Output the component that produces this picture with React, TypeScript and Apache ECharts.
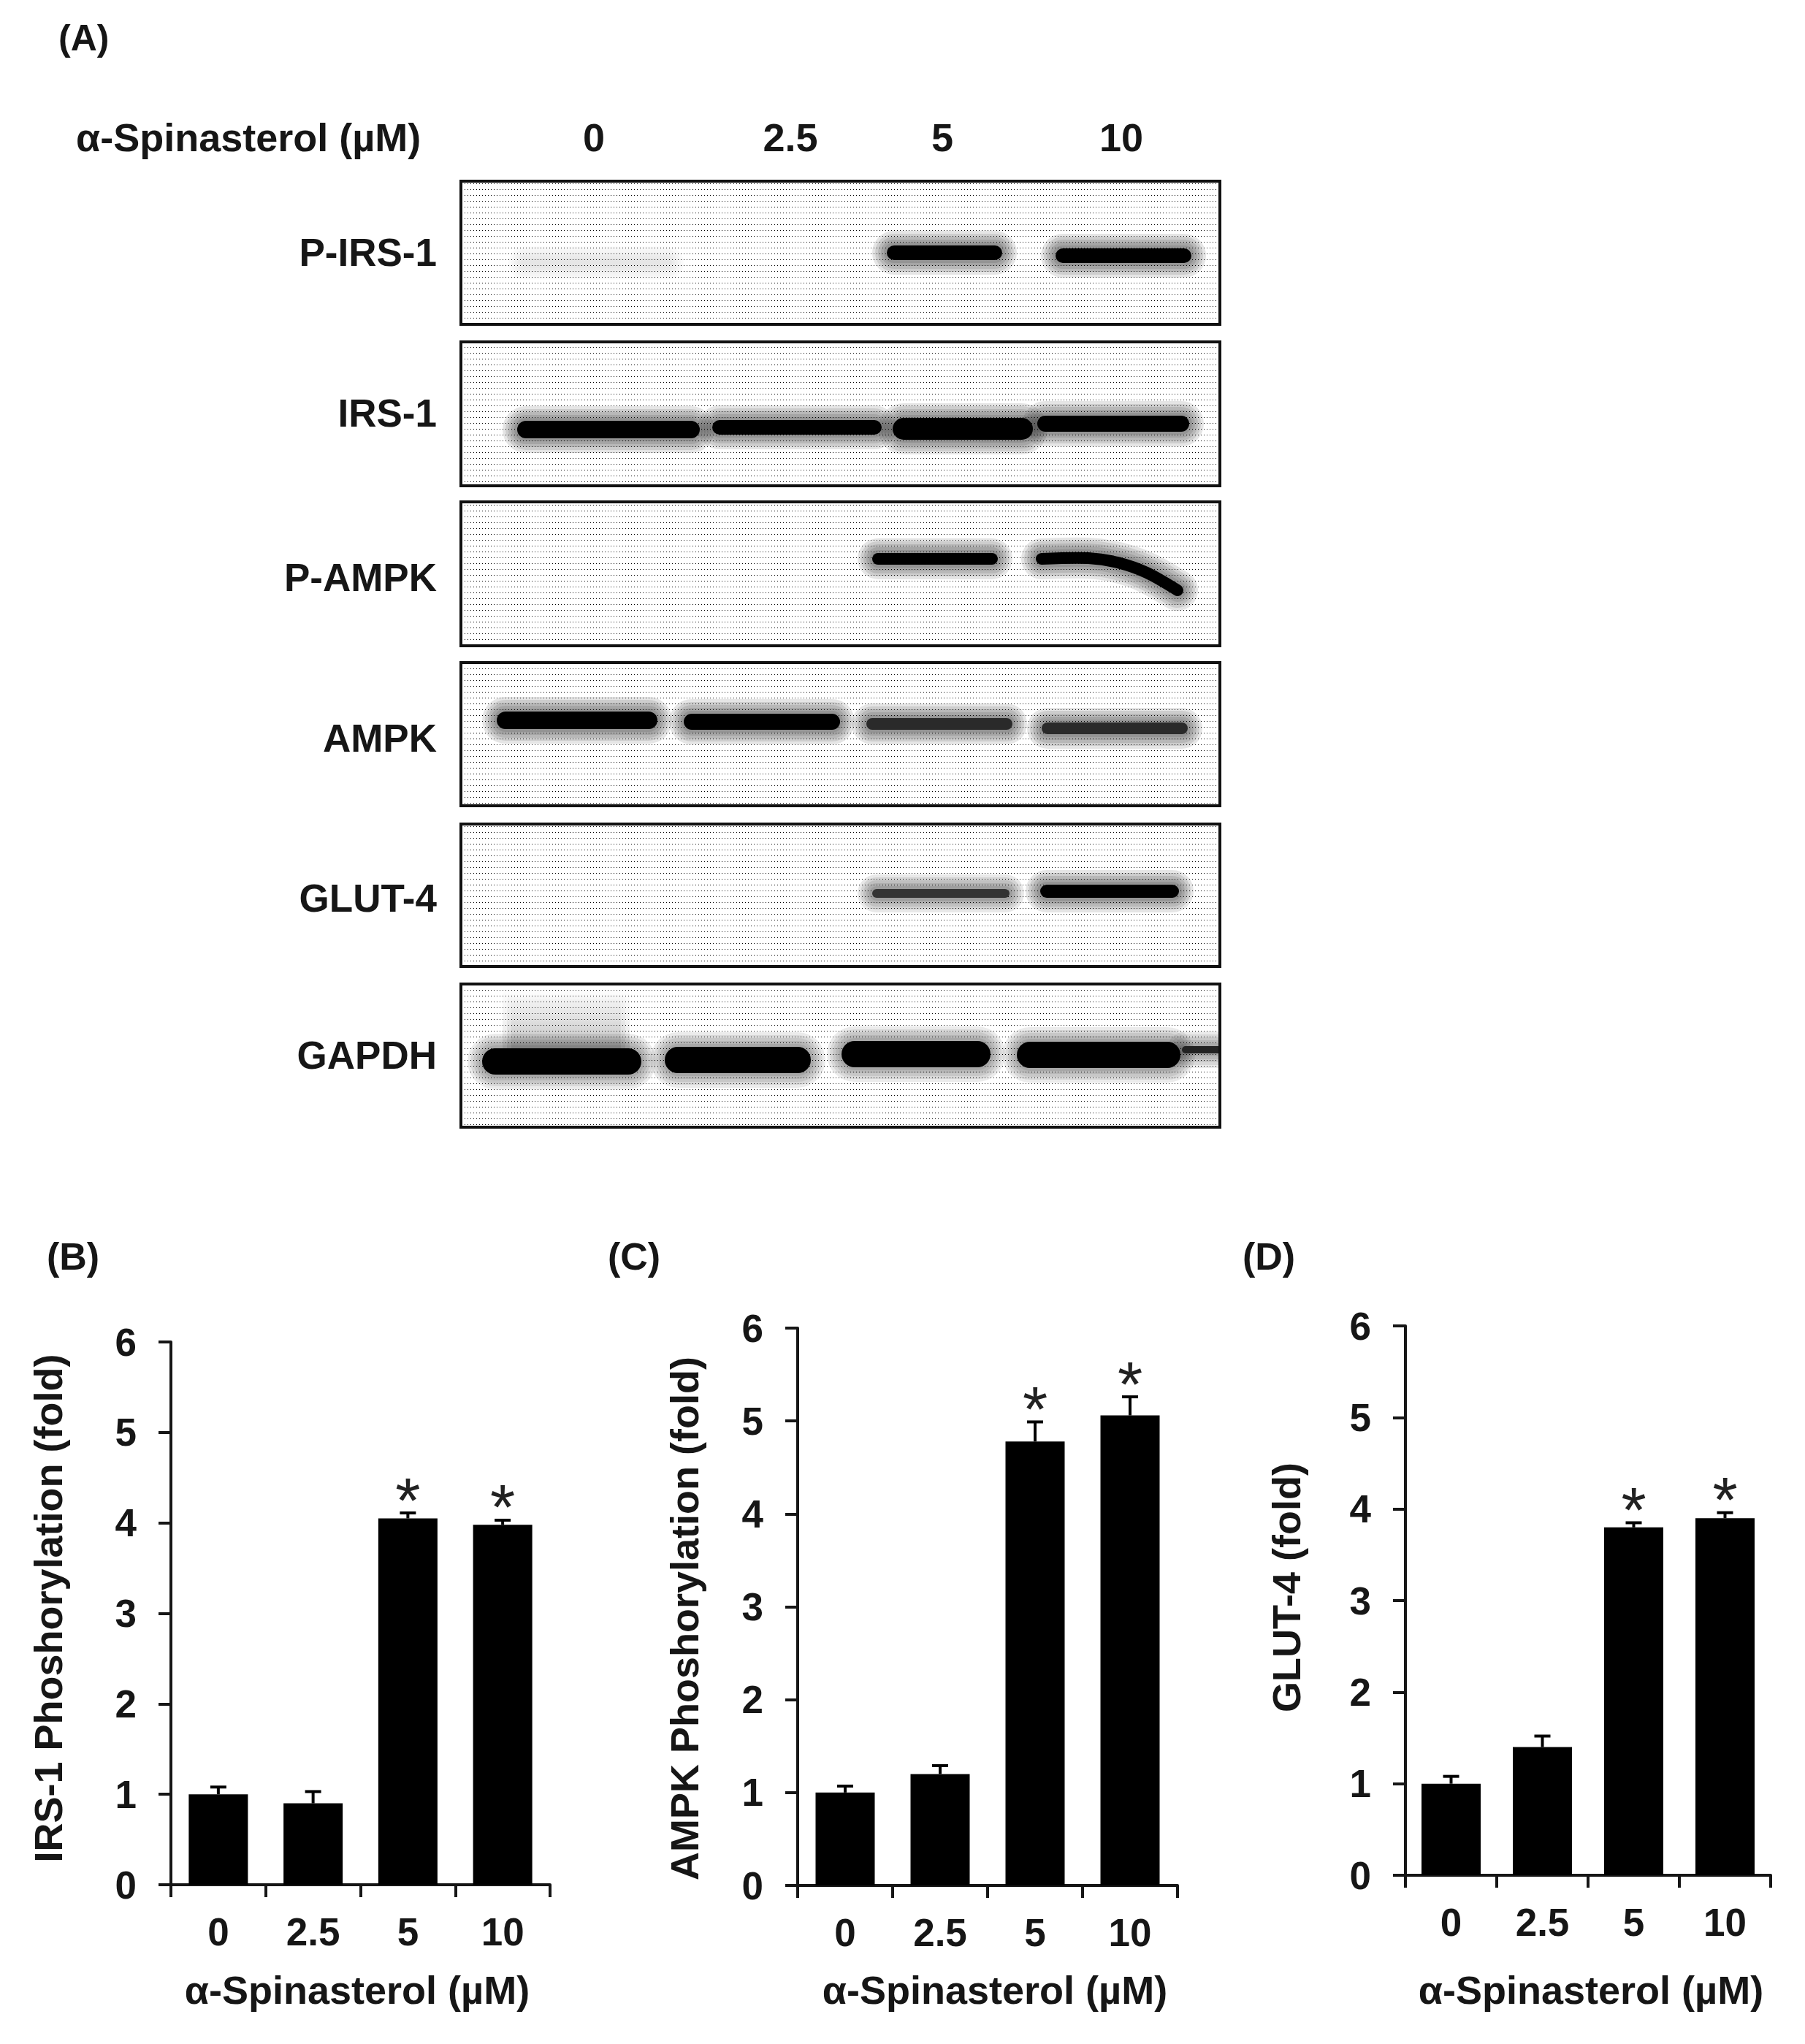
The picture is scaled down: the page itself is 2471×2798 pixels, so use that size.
import React, { useEffect, useRef } from "react";
import * as echarts from "echarts";

const doses = ["0", "2.5", "5", "10"];
const irsValues = [1.0, 0.9, 4.05, 3.98];
const irsErrors = [0.08, 0.13, 0.06, 0.05];
const ampkValues = [1.0, 1.2, 4.78, 5.06];
const ampkErrors = [0.07, 0.09, 0.21, 0.2];
const glutValues = [1.0, 1.4, 3.8, 3.9];
const glutErrors = [0.08, 0.12, 0.05, 0.06];
const significance = ["", "", "*", "*"];
const xTitle = "α-Spinasterol (µM)";

const FONT = "Liberation Sans";
const INK = "#161616";
const TITLE_SIZE = 54;

const panels = [
  { name: "IRS-1 Phoshorylation (fold)", values: irsValues, errors: irsErrors, left: 234, right: 753, top: 1837, bottom: 2580, yGap: 141, yPad: [0, 0, 0, 14], xGap: 117, xPad: [0, 9, 0, 0] },
  { name: "AMPK Phoshorylation (fold)", values: ampkValues, errors: ampkErrors, left: 1092, right: 1612, top: 1818, bottom: 2581, yGap: 128, yPad: [0, 32, 0, 0], xGap: 116, xPad: [0, 0, 0, 20] },
  { name: "GLUT-4 (fold)", values: glutValues, errors: glutErrors, left: 1924, right: 2424, top: 1815, bottom: 2567, yGap: 136, yPad: [0, 0, 0, 36], xGap: 130, xPad: [0, 0, 0, 8] },
];

const blotFrames = [
  { label: "P-IRS-1", y0: 248, y1: 444, ly: 345 },
  { label: "IRS-1", y0: 468, y1: 665, ly: 565 },
  { label: "P-AMPK", y0: 687, y1: 884, ly: 790 },
  { label: "AMPK", y0: 907, y1: 1103, ly: 1010 },
  { label: "GLUT-4", y0: 1128, y1: 1323, ly: 1229 },
  { label: "GAPDH", y0: 1347, y1: 1543, ly: 1444 },
];

// centre-line points, core thickness, core colour, halo strength
type Band = { pts: number[][]; h: number; color: string; halo: number };
const line = (x: number, y: number, w: number, h: number, color = "#000", halo = 0.1): Band => ({
  pts: [[x + h / 2, y], [x + w - h / 2, y]],
  h,
  color,
  halo,
});
const bands: Band[] = [
  line(716, 360, 200, 5, "#e6e6e6", 0.02),
  line(1214, 346, 158, 20),
  line(1445, 350, 186, 20),
  line(708, 588, 250, 24),
  line(975, 585, 232, 20),
  line(1222, 587, 192, 30),
  line(1420, 580, 208, 22),
  line(1194, 765, 172, 16),
  { pts: [[1426, 765], [1490, 764], [1530, 770], [1570, 784], [1612, 808]], h: 16, color: "#000", halo: 0.1 },
  line(680, 986, 220, 24),
  line(936, 988, 214, 22),
  line(1186, 991, 200, 16, "#2a2a2a", 0.1),
  line(1426, 997, 200, 16, "#2a2a2a", 0.1),
  line(1194, 1223, 188, 12, "#333", 0.09),
  line(1424, 1220, 190, 18, "#000", 0.1),
  line(660, 1453, 218, 36, "#000", 0.08),
  line(910, 1451, 200, 36, "#000", 0.08),
  line(1152, 1443, 204, 36, "#000", 0.08),
  line(1392, 1444, 224, 36, "#000", 0.08),
  line(1618, 1437, 60, 10, "#222", 0.08),
];

function makeTexture() {
  const c = document.createElement("canvas");
  c.width = 4;
  c.height = 8;
  const g = c.getContext("2d")!;
  g.fillStyle = "#fff";
  g.fillRect(0, 0, 4, 8);
  g.fillStyle = "#000";
  g.fillRect(0, 3, 1, 1);
  return c;
}

function txt(text: string, x: number, y: number, align = "left", size = 50) {
  return {
    type: "text",
    z: 10,
    style: { text, x, y, fill: INK, fontFamily: FONT, fontWeight: "bold", fontSize: size, textAlign: align, textVerticalAlign: "middle" },
  };
}

function blotGraphics() {
  const X0 = 631, X1 = 1670;
  const tex = makeTexture();
  const out: any[] = [];
  blotFrames.forEach((f) => {
    out.push({ type: "rect", z: 1, shape: { x: X0, y: f.y0, width: X1 - X0, height: f.y1 - f.y0 }, style: { fill: { image: tex, repeat: "repeat" } } });
    out.push(txt(f.label, 598, f.ly, "right", 53));
  });
  // smear above the first GAPDH lane
  [0, 6, 12].forEach((d) => {
    out.push({
      type: "rect",
      z: 2,
      shape: { x: 688 + d, y: 1356 + d, width: 174 - 2 * d, height: 90, r: 6 },
      style: {
        fill: {
          type: "linear", x: 0, y: 0, x2: 0, y2: 1,
          colorStops: [{ offset: 0, color: "rgba(0,0,0,0.01)" }, { offset: 1, color: "rgba(0,0,0,0.10)" }],
        },
      },
    });
  });
  bands.forEach((b) => {
    [40, 32, 24, 16, 8].forEach((grow) => {
      out.push({
        type: "polyline",
        z: 3,
        shape: { points: b.pts, smooth: b.pts.length > 2 ? 0.3 : 0 },
        style: { fill: "none", stroke: `rgba(0,0,0,${b.halo})`, lineWidth: b.h + grow, lineCap: "round", lineJoin: "round" },
      });
    });
    out.push({
      type: "polyline",
      z: 3,
      shape: { points: b.pts, smooth: b.pts.length > 2 ? 0.3 : 0 },
      style: { fill: "none", stroke: b.color, lineWidth: b.h, lineCap: "round", lineJoin: "round" },
    });
  });
  // mask overflow to the right of the last GAPDH lane, then frames
  out.push({ type: "rect", z: 4, shape: { x: X1, y: 1347, width: 40, height: 196 }, style: { fill: "#fff" } });
  blotFrames.forEach((f) => {
    out.push({ type: "rect", z: 5, shape: { x: X0, y: f.y0, width: X1 - X0, height: f.y1 - f.y0 }, style: { fill: "none", stroke: "#111", lineWidth: 4 } });
  });
  out.push(txt("(A)", 80, 52));
  out.push(txt(xTitle, 104, 188, "left", TITLE_SIZE));
  out.push(txt(doses[0], 813, 188, "center", 54));
  out.push(txt(doses[1], 1082, 188, "center", 54));
  out.push(txt(doses[2], 1290, 188, "center", 54));
  out.push(txt(doses[3], 1535, 188, "center", 54));
  out.push(txt("(B)", 64, 1720, "left", 52));
  out.push(txt("(C)", 832, 1720, "left", 52));
  out.push(txt("(D)", 1701, 1720, "left", 52));
  return out;
}

function buildOption() {
  const grid = panels.map((p) => ({ left: p.left, top: p.top, width: p.right - p.left, height: p.bottom - p.top }));
  const lineStyle = { color: INK, width: 4 };
  const xAxis = panels.map((p, i) => ({
    type: "category",
    gridIndex: i,
    data: doses,
    name: xTitle,
    nameLocation: "middle",
    nameGap: p.xGap,
    nameTextStyle: { color: INK, fontFamily: FONT, fontWeight: "bold", fontSize: TITLE_SIZE, padding: p.xPad },
    axisLine: { lineStyle, onZero: false },
    axisTick: { show: true, length: 17, lineStyle, alignWithLabel: false },
    axisLabel: { color: INK, fontFamily: FONT, fontWeight: "bold", fontSize: 53, margin: 38, interval: 0 },
    splitLine: { show: false },
  }));
  const yAxis = panels.map((p, i) => ({
    type: "value",
    gridIndex: i,
    min: 0,
    max: 6,
    interval: 1,
    name: p.name,
    nameLocation: "middle",
    nameGap: p.yGap,
    nameRotate: 90,
    nameTextStyle: { color: INK, fontFamily: FONT, fontWeight: "bold", fontSize: TITLE_SIZE, padding: p.yPad },
    axisLine: { show: true, lineStyle },
    axisTick: { show: true, length: 17, lineStyle },
    axisLabel: { color: INK, fontFamily: FONT, fontWeight: "bold", fontSize: 53, margin: 47 },
    splitLine: { show: false },
  }));
  const series: any[] = [];
  panels.forEach((p, i) => {
    series.push({
      type: "bar",
      name: p.name,
      xAxisIndex: i,
      yAxisIndex: i,
      data: p.values,
      barWidth: 81,
      itemStyle: { color: "#000" },
      z: 2,
    });
    series.push({
      type: "custom",
      name: p.name + " error",
      xAxisIndex: i,
      yAxisIndex: i,
      z: 3,
      clip: false,
      data: p.values.map((v, k) => [k, v, v + p.errors[k], significance[k]]),
      encode: { x: 0, y: [1, 2] },
      renderItem: (_: any, api: any) => {
        const base = api.coord([api.value(0), api.value(1)]);
        const top = api.coord([api.value(0), api.value(2)]);
        const mark = significance[api.value(0) as number];
        const stroke = { stroke: "#000", lineWidth: 4, fill: "none" };
        const children: any[] = [
          { type: "line", shape: { x1: base[0], y1: base[1], x2: top[0], y2: top[1] }, style: stroke },
          { type: "line", shape: { x1: base[0] - 11, y1: top[1], x2: base[0] + 11, y2: top[1] }, style: stroke },
        ];
        if (mark) {
          children.push({
            type: "text",
            style: { text: mark, x: base[0], y: top[1] - 18, fill: "#222", fontFamily: FONT, fontSize: 88, textAlign: "center", textVerticalAlign: "middle" },
          });
        }
        return { type: "group", children };
      },
    });
  });
  return { animation: false, backgroundColor: "#fff", grid, xAxis, yAxis, series, graphic: { elements: blotGraphics() } };
}

export default function App() {
  const ref = useRef<HTMLDivElement>(null);
  useEffect(() => {
    const chart = echarts.init(ref.current!, undefined, { renderer: "svg" });
    chart.setOption(buildOption() as any);
    return () => chart.dispose();
  }, []);
  return <div ref={ref} style={{ position: "absolute", left: 0, top: 0, width: 2471, height: 2798 }} />;
}
